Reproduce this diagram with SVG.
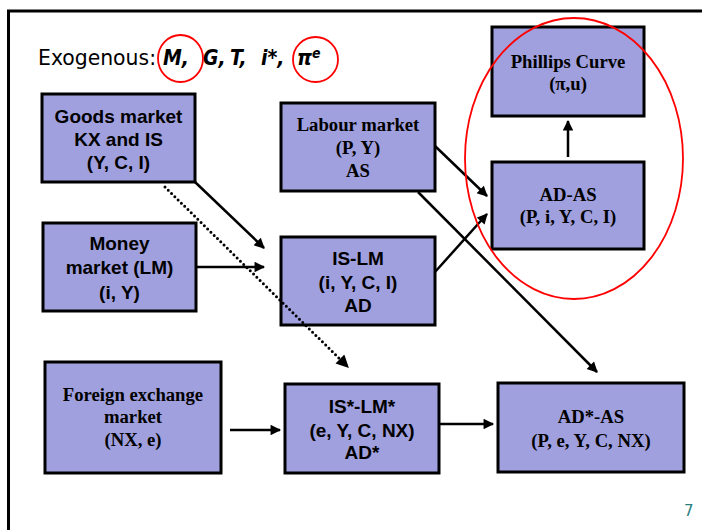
<svg xmlns="http://www.w3.org/2000/svg" width="702" height="530" viewBox="0 0 702 530">
<defs>
<marker id="ah" viewBox="0 0 10 10" refX="9" refY="5" markerWidth="4.8" markerHeight="4.2" markerUnits="strokeWidth" orient="auto">
<path d="M0,0 L10,5 L0,10 z" fill="#000"/>
</marker>
</defs>
<style>
.box{fill:#a0a0de;stroke:#000;stroke-width:3}
.ss{font-family:"Liberation Sans",Arial,sans-serif;font-weight:bold;font-size:19px;text-anchor:middle;fill:#000}
.sf{font-family:"Liberation Serif","Times New Roman",serif;font-weight:bold;font-size:18.7px;text-anchor:middle;fill:#000}
.ex{font-family:"DejaVu Sans Condensed","DejaVu Sans",sans-serif;font-size:21px;font-weight:bold;font-style:italic;fill:#000}
.ln{stroke:#000;stroke-width:2.5;fill:none;marker-end:url(#ah)}
.dot{stroke:#000;stroke-width:3;fill:none;stroke-dasharray:0 4.6;stroke-linecap:round;marker-end:url(#ah)}
.red{fill:none;stroke:#ff0000;stroke-width:1.8}
</style>
<rect width="702" height="530" fill="#fff"/>
<path d="M8.5,530 V11 H702" fill="none" stroke="#000" stroke-width="3"/>
<g id="title">
<text x="38" y="65" font-family="DejaVu Sans Condensed,DejaVu Sans,sans-serif" font-size="22" fill="#000" textLength="118" lengthAdjust="spacingAndGlyphs">Exogenous:</text>
<text class="ex" x="163" y="65">M,</text>
<text class="ex" x="203" y="65">G,</text>
<text class="ex" x="230" y="65">T,</text>
<text class="ex" x="261" y="65">i*,</text>
<text class="ex" x="297" y="65">π</text>
<text class="ex" x="312" y="58" style="font-size:14px">e</text>
</g>
<g id="goods">
<rect class="box" x="42" y="94" width="153" height="88"/>
<text class="ss" x="118.5" y="123">Goods market</text>
<text class="ss" x="118.5" y="146">KX and IS</text>
<text class="ss" x="118.5" y="169">(Y, C, I)</text>
</g>
<g id="money">
<rect class="box" x="43" y="223" width="153" height="88"/>
<text class="ss" x="119.5" y="250">Money</text>
<text class="ss" x="119.5" y="274">market (LM)</text>
<text class="ss" x="119.5" y="299">(i, Y)</text>
</g>
<g id="labour">
<rect class="box" x="281" y="103" width="154" height="88"/>
<text class="sf" x="358" y="131">Labour market</text>
<text class="sf" x="358" y="154">(P, Y)</text>
<text class="sf" x="358" y="177">AS</text>
</g>
<g id="islm">
<rect class="box" x="281" y="237" width="154" height="88"/>
<text class="ss" x="358" y="265">IS-LM</text>
<text class="ss" x="358" y="289">(i, Y, C, I)</text>
<text class="ss" x="358" y="312">AD</text>
</g>
<g id="phillips">
<rect class="box" x="492" y="27" width="152" height="89"/>
<text class="sf" x="568" y="68">Phillips Curve</text>
<text class="sf" x="568" y="90">(π,u)</text>
</g>
<g id="adas">
<rect class="box" x="492" y="162" width="152" height="87"/>
<text class="sf" x="568" y="201">AD-AS</text>
<text class="sf" x="568" y="223">(P, i, Y, C, I)</text>
</g>
<g id="forex">
<rect class="box" x="45" y="362" width="176" height="111"/>
<text class="sf" x="133" y="401">Foreign exchange</text>
<text class="sf" x="133" y="423">market</text>
<text class="sf" x="133" y="446">(NX, e)</text>
</g>
<g id="islmstar">
<rect class="box" x="285" y="384" width="154" height="89"/>
<text class="ss" x="362" y="413">IS*-LM*</text>
<text class="ss" x="362" y="437">(e, Y, C, NX)</text>
<text class="ss" x="362" y="459">AD*</text>
</g>
<g id="adstar">
<rect class="box" x="498" y="383" width="186" height="89"/>
<text class="sf" x="591" y="423">AD*-AS</text>
<text class="sf" x="591" y="447">(P, e, Y, C, NX)</text>
</g>
<g id="connectors">
<line class="ln" x1="195" y1="182" x2="264" y2="248"/>
<line class="ln" x1="196" y1="267" x2="264" y2="267"/>
<line class="dot" x1="165" y1="187" x2="348" y2="367"/>
<line class="ln" x1="435" y1="146" x2="487" y2="196"/>
<line class="ln" x1="435" y1="272" x2="487" y2="214"/>
<line class="ln" x1="418" y1="192" x2="597" y2="372"/>
<line class="ln" x1="568" y1="157" x2="568" y2="121"/>
<line class="ln" x1="230" y1="430" x2="280" y2="430"/>
<line class="ln" x1="439" y1="424" x2="493" y2="424"/>
</g>
<g id="highlights">
<ellipse class="red" cx="180.5" cy="58.5" rx="22.5" ry="23.5"/>
<ellipse class="red" cx="315.5" cy="59.5" rx="22.5" ry="22.5"/>
<ellipse class="red" cx="574" cy="158.5" rx="109" ry="140.5"/>
</g>
<text x="684" y="516" font-family="DejaVu Sans,sans-serif" font-size="15" fill="#2a8080">7</text>
</svg>
